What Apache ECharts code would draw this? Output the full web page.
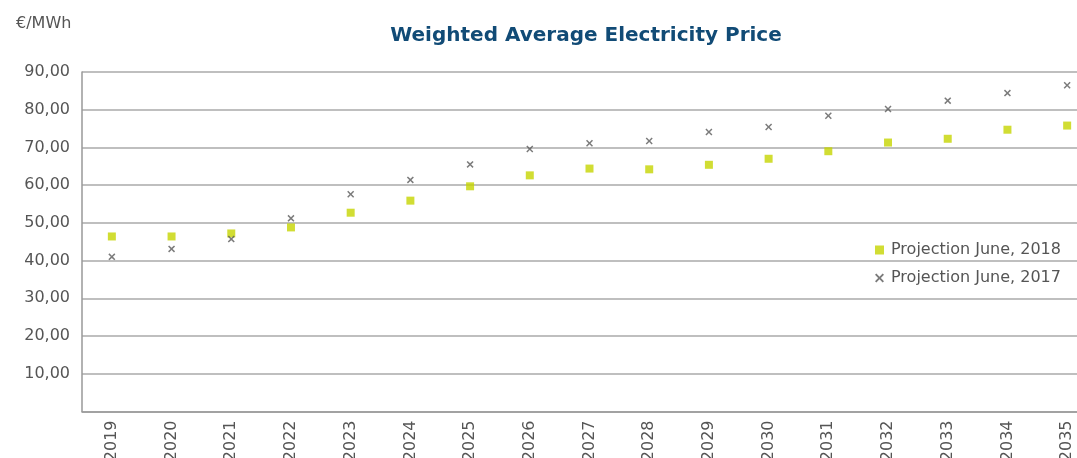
<!DOCTYPE html>
<html>
<head>
<meta charset="utf-8">
<script src="https://cdn.jsdelivr.net/npm/echarts@6/dist/echarts.min.js"></script>
<style>
  html, body { margin: 0; padding: 0; background: #fff; }
  #chart { width: 1077px; height: 458px; }
</style>
</head>
<body>
<div id="chart"></div>
<script>
// data
const years = ['2019', '2020', '2021', '2022', '2023', '2024', '2025', '2026', '2027',
  '2028', '2029', '2030', '2031', '2032', '2033', '2034', '2035'];
const proj2018 = [46.4, 46.4, 47.2, 48.8, 52.7, 55.9, 59.7, 62.6, 64.4,
  64.2, 65.4, 67.0, 69.0, 71.3, 72.3, 74.7, 75.8];
const proj2017 = [41.0, 43.1, 45.7, 51.2, 57.6, 61.4, 65.5, 69.6, 71.1,
  71.7, 74.1, 75.4, 78.4, 80.2, 82.4, 84.4, 86.5];
const seriesNames = ['Projection June, 2018', 'Projection June, 2017'];

const fontFam = '"DejaVu Sans", sans-serif';
// x-shaped marker (a bit thicker stroke)
const crossPath = 'path://M0,1.5L1.5,0L5,3.5L8.5,0L10,1.5L6.5,5L10,8.5L8.5,10L5,6.5L1.5,10L0,8.5L3.5,5Z';

const chart = echarts.init(document.getElementById('chart'));
chart.setOption({
  animation: false,
  textStyle: { fontFamily: fontFam },
  title: [
    {
      text: 'Weighted Average Electricity Price',
      left: 581, top: 21, textAlign: 'center',
      textStyle: { color: '#114b76', fontSize: 20, fontWeight: 'bold', fontFamily: fontFam }
    },
    {
      text: '€/MWh',
      left: 11, top: 11,
      textStyle: { color: '#555', fontSize: 16, fontWeight: 'normal', fontFamily: fontFam }
    }
  ],
  legend: {
    orient: 'vertical',
    left: 870, top: 237,
    itemGap: 12,
    itemWidth: 9, itemHeight: 9,
    textStyle: { color: '#555', fontSize: 16, fontFamily: fontFam, padding: [0, 0, 0, 2] },
    data: [
      { name: seriesNames[0], icon: 'rect' },
      { name: seriesNames[1], icon: crossPath }
    ]
  },
  grid: { left: 82, width: 1015, top: 72, height: 339.5, outerBoundsMode: 'none' },
  xAxis: {
    type: 'category',
    data: years,
    axisTick: { show: false },
    axisLine: { lineStyle: { color: '#999', width: 1.5 } },
    axisLabel: { rotate: 90, color: '#555', fontSize: 16, margin: 9 }
  },
  yAxis: {
    type: 'value',
    min: 0, max: 90, interval: 10,
    axisLine: { show: true, lineStyle: { color: '#999', width: 1.5 } },
    axisTick: { show: false },
    splitLine: { lineStyle: { color: '#aaa', width: 1.5 } },
    axisLabel: {
      color: '#555', fontSize: 16, margin: 12,
      formatter: v => v === 0 ? '' : v.toFixed(2).replace('.', ',')
    }
  },
  series: [
    {
      name: seriesNames[0],
      type: 'scatter',
      data: proj2018,
      symbol: 'rect',
      symbolSize: 8,
      itemStyle: { color: '#c6d500' }
    },
    {
      name: seriesNames[1],
      type: 'scatter',
      data: proj2017,
      symbol: crossPath,
      symbolSize: 7,
      itemStyle: { color: '#5a5a5a' }
    }
  ]
});
</script>
</body>
</html>
